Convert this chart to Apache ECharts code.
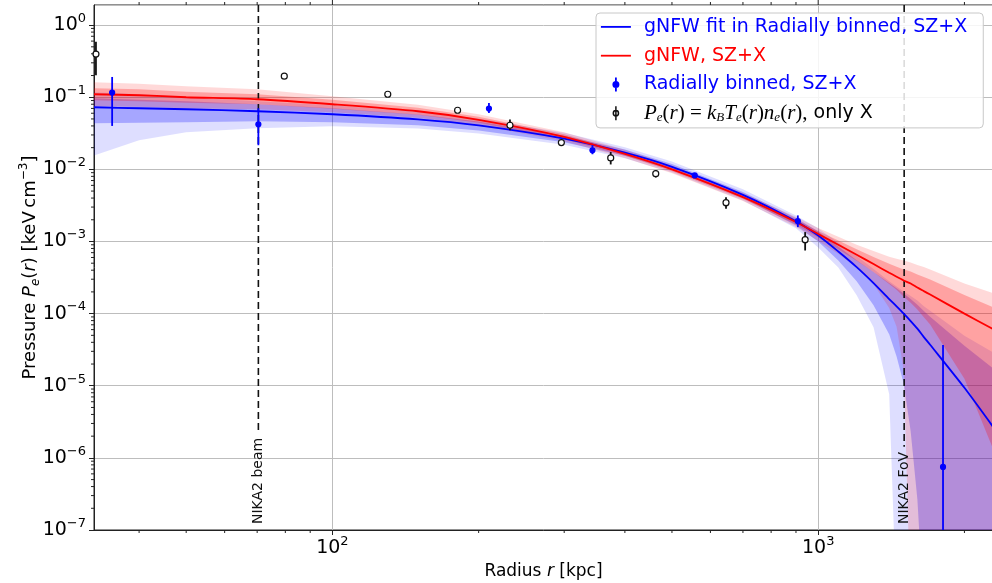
<!DOCTYPE html>
<html>
<head>
<meta charset="utf-8">
<script src="https://cdn.jsdelivr.net/npm/echarts@6.0.0/dist/echarts.min.js"></script>
<style>
html,body{margin:0;padding:0;background:#ffffff;}
#chart{width:992px;height:583px;}
</style>
</head>
<body>
<div id="chart"></div>
<script>
// ---------------- data ----------------
// radius grid of the model curves [kpc]
const modelR = [32.3, 40, 50, 70, 100, 150, 200, 300, 400, 500, 700, 900, 1000, 1100, 1200, 1300, 1400, 1450, 1500, 1550, 1600, 1650, 1700, 2000, 2300];

// gNFW, SZ+X (red): best fit, 1-sigma and 2-sigma envelopes [keV cm^-3]
const redFit = [0.110, 0.1066, 0.100, 0.0938, 0.0799, 0.0639, 0.0487, 0.0283, 0.0164, 0.0100, 4.12e-3, 1.866e-3, 1.27e-3, 9.0e-4, 6.55e-4, 4.87e-4, 3.68e-4, 3.24e-4, 2.88e-4, 2.61e-4, 2.30e-4, 2.05e-4, 1.836e-4, 1.0e-4, 6.0e-5];
const redHi1 = [0.1334, 0.1291, 0.1192, 0.1100, 0.0923, 0.0715, 0.0536, 0.0306, 0.0175, 0.01065, 4.40e-3, 2.02e-3, 1.40e-3, 1.03e-3, 7.82e-4, 6.09e-4, 4.91e-4, 4.46e-4, 4.09e-4, 3.83e-4, 3.48e-4, 3.21e-4, 2.97e-4, 1.81e-4, 1.21e-4];
const redLo1 = [0.0909, 0.0880, 0.0839, 0.0799, 0.0692, 0.0571, 0.0442, 0.0261, 0.0154, 9.38e-3, 3.87e-3, 1.72e-3, 1.135e-3, 7.79e-4, 5.42e-4, 3.77e-4, 2.58e-4, 2.14e-4, 1.72e-4, 1.42e-4, 1.14e-4, 8.94e-5, 7.04e-5, 1.25e-5, 1.25e-6];
const redHi2 = [0.1616, 0.154, 0.142, 0.1291, 0.103, 0.0787, 0.0581, 0.0327, 0.0187, 0.01135, 4.69e-3, 2.19e-3, 1.54e-3, 1.16e-3, 9.03e-4, 7.38e-4, 6.13e-4, 5.77e-4, 5.44e-4, 5.11e-4, 4.72e-4, 4.42e-4, 4.08e-4, 2.61e-4, 1.90e-4];
const redLo2 = [0.0750, 0.0738, 0.0703, 0.0681, 0.0619, 0.0519, 0.0408, 0.0245, 0.0144, 8.80e-3, 3.63e-3, 1.59e-3, 1.016e-3, 6.75e-4, 4.32e-4, 2.57e-4, 1.20e-4, 6.56e-5, 1.62e-5, 0, 0, 0, 0, 0, 0];

// gNFW fit in Radially binned, SZ+X (blue): best fit, 1-sigma and 2-sigma envelopes
const blueFit = [0.0726, 0.0703, 0.0681, 0.0639, 0.0581, 0.0493, 0.0406, 0.0266, 0.0170, 0.0108, 4.42e-3, 1.90e-3, 1.21e-3, 7.26e-4, 4.41e-4, 2.65e-4, 1.59e-4, 1.26e-4, 1.0e-4, 7.89e-5, 6.19e-5, 4.73e-5, 3.70e-5, 9.36e-6, 2.59e-6];
const blueHi1 = [0.0969, 0.0923, 0.0880, 0.0799, 0.0703, 0.0578, 0.0462, 0.0293, 0.0188, 0.0119, 4.87e-3, 2.12e-3, 1.38e-3, 8.52e-4, 5.51e-4, 3.77e-4, 2.66e-4, 2.24e-4, 1.90e-4, 1.60e-4, 1.33e-4, 1.09e-4, 9.06e-5, 3.59e-5, 1.71e-5];
const blueLo1 = [0.0435, 0.0442, 0.0450, 0.0464, 0.0450, 0.0408, 0.0346, 0.0238, 0.0154, 9.84e-3, 4.02e-3, 1.67e-3, 1.0e-3, 5.45e-4, 2.82e-4, 1.31e-4, 5.19e-5, 2.55e-5, 1.066e-5, 2.34e-6, 2.70e-7, 0, 0, 0, 0];
const blueHi2 = [0.117, 0.110, 0.100, 0.0880, 0.0774, 0.0627, 0.0508, 0.0322, 0.0203, 0.0129, 5.28e-3, 2.29e-3, 1.52e-3, 9.64e-4, 6.27e-4, 4.15e-4, 2.82e-4, 2.38e-4, 2.02e-4, 1.76e-4, 1.52e-4, 1.27e-4, 1.10e-4, 4.95e-5, 2.85e-5];
const blueLo2 = [0.0156, 0.0253, 0.0327, 0.0371, 0.0396, 0.0369, 0.0314, 0.0220, 0.0143, 9.08e-3, 3.71e-3, 1.52e-3, 8.25e-4, 4.35e-4, 1.80e-4, 6.49e-5, 7.62e-6, 0, 0, 0, 0, 0, 0, 0, 0];

// Radially binned, SZ+X (blue points with error bars)
const binR  = [35.2, 70.4, 210, 343, 557, 908, 1807];
const binP  = [0.116, 0.0422, 0.0697, 0.0184, 0.00825, 0.00191, 7.5e-7];
const binLo = [0.040, 0.0216, 0.0605, 0.0162, 0.0076, 0.00158, 0];
const binHi = [0.191, 0.0703, 0.0833, 0.0216, 0.0089, 0.0023, 3.67e-5];

// Pe(r) = kB Te(r) ne(r), only X (open black points with error bars)
const xrayR  = [32.6, 79.6, 130, 181, 232, 296, 374, 463, 646, 940];
const xrayP  = [0.396, 0.196, 0.110, 0.0660, 0.0409, 0.0235, 0.0144, 0.0087, 0.00345, 0.00106];
const xrayLo = [0.202, 0.186, 0.105, 0.063, 0.0348, 0.0225, 0.0117, 0.0077, 0.00285, 0.00075];
const xrayHi = [0.586, 0.206, 0.115, 0.069, 0.049, 0.0245, 0.0174, 0.0098, 0.00412, 0.00135];

// vertical reference lines
const markerR = [70.4, 1503];
const markerLabels = ['NIKA2 beam', 'NIKA2 FoV'];

// axes
const xMin = 32.3, xMax = 2290;
const yMin = 1e-7, yMax = 1.9;
const xMinorTicks = [40, 50, 60, 70, 80, 90, 200, 300, 400, 500, 600, 700, 800, 900, 2000];
const xMajorTicks = [100, 1000];
const yMinorMantissas = [2, 3, 4, 5, 6, 7, 8, 9];
const yDecades = [-7, -6, -5, -4, -3, -2, -1];

// names
const blueFitName = 'gNFW fit in Radially binned, SZ+X';
const redFitName = 'gNFW, SZ+X';
const binName = 'Radially binned, SZ+X';
const xrayName = 'Pe(r) = kBTe(r)ne(r), only X';

// ---------------- styles ----------------
const BLUE = '#0000ff', RED = '#ff0000';
const FONT = 'DejaVu Sans';

const yMinorTicks = [];
yDecades.forEach(d => yMinorMantissas.forEach(m => yMinorTicks.push(m * Math.pow(10, d))));

function powLabel(v) {
  const e = Math.log10(v);
  const n = Math.round(e);
  if (Math.abs(e - n) > 1e-6) return '';
  return '{b|10}{s|' + (n < 0 ? '\u2212' + (-n) : String(n)) + '}';
}
const tickRich = {
  b: {fontSize: 19, lineHeight: 26, fontFamily: FONT, color: '#000'},
  s: {fontSize: 13, lineHeight: 12, verticalAlign: 'top', fontFamily: FONT, color: '#000'}
};

function bandSeries(name, lo, hi, color, z) {
  return {
    type: 'custom', name: name, z: z, clip: true, silent: true,
    data: modelR.map((r, i) => [r, hi[i]]),
    encode: {x: 0, y: 1},
    renderItem: function (params, api) {
      if (params.dataIndex !== 0) return null;
      const cs = params.coordSys;
      const floorY = cs.y + cs.height + 80;
      const upper = [], lower = [];
      for (let i = 0; i < modelR.length; i++) {
        const pu = api.coord([modelR[i], hi[i]]);
        upper.push(pu);
        lower.push(lo[i] > 0 ? api.coord([modelR[i], lo[i]]) : [pu[0], floorY]);
      }
      return {type: 'polygon', shape: {points: upper.concat(lower.reverse())}, style: {fill: color}};
    }
  };
}

function errSeries(name, rr, pp, lo, hi, stroke, fill, rad, lw, z) {
  return {
    type: 'custom', name: name, z: z, clip: false, silent: true,
    data: rr.map((r, i) => [r, pp[i], lo[i], hi[i]]),
    encode: {x: 0, y: 1},
    renderItem: function (params, api) {
      const cs = params.coordSys;
      const r = api.value(0);
      const c = api.coord([r, api.value(1)]);
      const l = api.value(2);
      const yLo = l > 0 ? api.coord([r, l])[1] : cs.y + cs.height;
      const yHi = Math.max(cs.y, api.coord([r, api.value(3)])[1]);
      return {type: 'group', children: [
        {type: 'line', shape: {x1: c[0], y1: yLo, x2: c[0], y2: yHi}, style: {stroke: stroke, lineWidth: lw}},
        {type: 'circle', shape: {cx: c[0], cy: c[1], r: rad}, style: {fill: fill, stroke: stroke, lineWidth: 1.2}}
      ]};
    }
  };
}

const measureCtx = document.createElement('canvas').getContext('2d');
measureCtx.font = '14px "' + FONT + '"';

const series = [
  bandSeries('blue2s', blueLo2, blueHi2, 'rgba(0,0,255,0.13)', 1),
  bandSeries('blue1s', blueLo1, blueHi1, 'rgba(0,0,255,0.25)', 1),
  bandSeries('red2s', redLo2, redHi2, 'rgba(255,0,0,0.15)', 1),
  bandSeries('red1s', redLo1, redHi1, 'rgba(255,0,0,0.25)', 1),
  {
    type: 'custom', name: 'markers', z: 3, clip: false, silent: true,
    data: markerR.map((r, i) => [r, 1, i]),
    encode: {x: 0, y: 1},
    renderItem: function (params, api) {
      const cs = params.coordSys;
      const x = api.coord([api.value(0), 1])[0];
      const label = markerLabels[api.value(2)];
      const bottom = cs.y + cs.height;
      const textStart = bottom - 6;
      const len = measureCtx.measureText(label).width;
      return {type: 'group', children: [
        {type: 'line', shape: {x1: x, y1: cs.y, x2: x, y2: textStart - len - 5},
         style: {stroke: '#111', lineWidth: 1.6, lineDash: [7, 4]}},
        {type: 'text', x: x, y: textStart, rotation: Math.PI / 2,
         style: {text: label, font: '14px "' + FONT + '"', fill: '#111', align: 'left', verticalAlign: 'middle'}}
      ]};
    }
  },
  {
    type: 'line', name: blueFitName, z: 4, symbol: 'none', showSymbol: false, silent: true, smooth: 0.25,
    data: modelR.map((r, i) => [r, blueFit[i]]),
    lineStyle: {color: BLUE, width: 1.8}, itemStyle: {color: BLUE}
  },
  {
    type: 'line', name: redFitName, z: 4, symbol: 'none', showSymbol: false, silent: true, smooth: 0.25,
    data: modelR.map((r, i) => [r, redFit[i]]),
    lineStyle: {color: RED, width: 1.8}, itemStyle: {color: RED}
  },
  errSeries(xrayName, xrayR, xrayP, xrayLo, xrayHi, '#111', '#ffffff', 3, 1.8, 5),
  errSeries(binName, binR, binP, binLo, binHi, BLUE, BLUE, 2.5, 1.8, 6),
  {
    type: 'custom', name: 'xMinor', z: 6, clip: false, silent: true,
    data: xMinorTicks.map(v => [v, 1, 3]).concat(xMajorTicks.map(v => [v, 1, 0])),
    encode: {x: 0, y: 1},
    renderItem: function (params, api) {
      const cs = params.coordSys;
      const x = api.coord([api.value(0), 1])[0];
      const len = api.value(2);
      const b = cs.y + cs.height, t = cs.y;
      const kids = [{type: 'line', shape: {x1: x, y1: t, x2: x, y2: t - (len || 5)}, style: {stroke: '#222', lineWidth: 1}}];
      if (len) kids.push({type: 'line', shape: {x1: x, y1: b, x2: x, y2: b + len}, style: {stroke: '#222', lineWidth: 1}});
      return {type: 'group', children: kids};
    }
  },
  {
    type: 'custom', name: 'yMinor', z: 6, clip: false, silent: true,
    data: yMinorTicks.map(v => [100, v]),
    encode: {x: 0, y: 1},
    renderItem: function (params, api) {
      const cs = params.coordSys;
      const y = api.coord([100, api.value(1)])[1];
      return {type: 'line', shape: {x1: cs.x, y1: y, x2: cs.x - 3, y2: y}, style: {stroke: '#222', lineWidth: 1}};
    }
  }
];

const lineIcon = 'path://M0,0M30,20M0,10L30,10';
const errIcon = 'path://M0,0M30,20M15,3L15,17M17.6,10A2.6,2.6,0,1,1,12.4,10A2.6,2.6,0,1,1,17.6,10Z';
const mathLabel = '{mi|P}{sb|e}{mu|(}{mi|r}{mu|) = }{mi|k}{sb|B}{mi|T}{sb|e}{mu|(}{mi|r}{mu|)}{mi|n}{sb|e}{mu|(}{mi|r}{mu|),}{tx| only X}';

const option = {
  animation: false,
  backgroundColor: '#ffffff',
  grid: {left: 94, top: 5, right: -1, bottom: 53, show: true, borderColor: '#222', borderWidth: 1,
         outerBoundsMode: 'none', containLabel: false},
  xAxis: {
    type: 'log', logBase: 10, min: xMin, max: xMax,
    axisLine: {show: true, lineStyle: {color: '#222', width: 1}},
    axisTick: {show: true, length: 5, lineStyle: {color: '#222', width: 1}},
    axisLabel: {showMinLabel: false, showMaxLabel: false, margin: 5, formatter: powLabel, rich: tickRich},
    splitLine: {show: true, lineStyle: {color: '#bdbdbd', width: 1}},
    minorTick: {show: false}, minorSplitLine: {show: false},
    name: '{n|Radius }{i|r}{n| [kpc]}', nameLocation: 'middle', nameGap: 32, nameMoveOverlap: false,
    nameTextStyle: {rich: {
      n: {fontSize: 17, fontFamily: FONT, color: '#000', lineHeight: 20},
      i: {fontSize: 17, fontFamily: FONT, fontStyle: 'italic', color: '#000', lineHeight: 20}
    }}
  },
  yAxis: {
    type: 'log', logBase: 10, min: yMin, max: yMax,
    axisLine: {show: true, lineStyle: {color: '#222', width: 1}},
    axisTick: {show: true, length: 5, lineStyle: {color: '#222', width: 1}},
    axisLabel: {showMinLabel: true, showMaxLabel: false, margin: 8, formatter: powLabel, rich: tickRich},
    splitLine: {show: true, lineStyle: {color: '#bdbdbd', width: 1}},
    minorTick: {show: false}, minorSplitLine: {show: false},
    name: '{n|Pressure }{i|P}{sb|e}{n|(}{i|r}{n|) [keV\u2009cm}{sp|\u22123}{n|]}',
    nameLocation: 'middle', nameGap: 52, nameRotate: 90, nameMoveOverlap: false,
    nameTextStyle: {rich: {
      n: {fontSize: 18, fontFamily: FONT, color: '#000', lineHeight: 24},
      i: {fontSize: 18, fontFamily: FONT, fontStyle: 'italic', color: '#000', lineHeight: 24},
      sb: {fontSize: 12, fontFamily: FONT, fontStyle: 'italic', color: '#000', lineHeight: 10, verticalAlign: 'bottom'},
      sp: {fontSize: 12, fontFamily: FONT, color: '#000', lineHeight: 10, verticalAlign: 'top'}
    }}
  },
  legend: {
    orient: 'vertical', left: 596, top: 13,
    itemWidth: 30, itemHeight: 20, itemGap: 7,
    padding: [3, 16, 4, 4],
    selectedMode: false,
    backgroundColor: 'rgba(255,255,255,0.85)', borderColor: '#c8c8c8', borderWidth: 1, borderRadius: 4,
    textStyle: {
      fontSize: 19, fontFamily: FONT, lineHeight: 21, padding: [0, 0, 0, 8],
      rich: {
        mi: {fontFamily: 'Liberation Serif', fontStyle: 'italic', fontSize: 21, lineHeight: 21, color: '#000'},
        mu: {fontFamily: 'Liberation Serif', fontSize: 21, lineHeight: 21, color: '#000'},
        sb: {fontFamily: 'Liberation Serif', fontStyle: 'italic', fontSize: 13, lineHeight: 10, verticalAlign: 'bottom', color: '#000'},
        tx: {fontFamily: FONT, fontSize: 19, lineHeight: 21, color: '#000'}
      }
    },
    formatter: function (name) { return name === xrayName ? mathLabel : name; },
    data: [
      {name: blueFitName, icon: lineIcon, itemStyle: {color: BLUE, borderColor: BLUE, borderWidth: 1.8}, textStyle: {color: BLUE}},
      {name: redFitName, icon: lineIcon, itemStyle: {color: RED, borderColor: RED, borderWidth: 1.8}, textStyle: {color: RED}},
      {name: binName, icon: errIcon, itemStyle: {color: BLUE, borderColor: BLUE, borderWidth: 1.8}, textStyle: {color: BLUE}},
      {name: xrayName, icon: errIcon, itemStyle: {color: '#ffffff', borderColor: '#111', borderWidth: 1.5}, textStyle: {color: '#000'}}
    ]
  },
  series: series
};

const chart = echarts.init(document.getElementById('chart'), null, {renderer: 'canvas'});
chart.setOption(option);
</script>
</body>
</html>
